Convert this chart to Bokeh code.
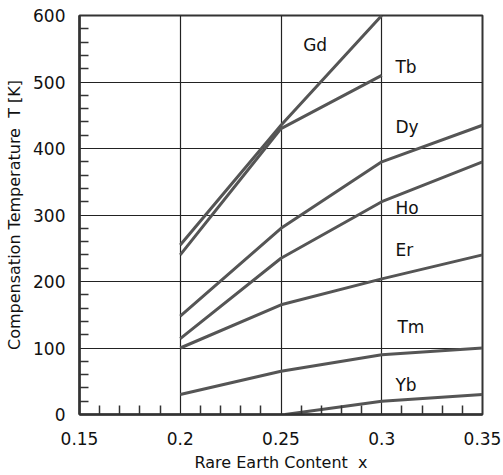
from bokeh.plotting import figure
from bokeh.models import FixedTicker, Range1d
from bokeh.core.properties import value
from bokeh.embed import file_html
from bokeh.resources import INLINE

# Data
gd_x = [0.2, 0.25, 0.3]
gd_y = [255, 435, 600]
tb_x = [0.2, 0.25, 0.3]
tb_y = [240, 430, 510]
dy_x = [0.2, 0.25, 0.3, 0.35]
dy_y = [148, 280, 380, 435]
ho_x = [0.2, 0.25, 0.3, 0.35]
ho_y = [114, 235, 320, 380]
er_x = [0.2, 0.25, 0.3, 0.35]
er_y = [100, 165, 204, 240]
tm_x = [0.2, 0.25, 0.3, 0.35]
tm_y = [30, 65, 90, 100]
yb_x = [0.252, 0.3, 0.35]
yb_y = [0, 20, 30]

series = [(gd_x, gd_y), (tb_x, tb_y), (dy_x, dy_y), (ho_x, ho_y),
          (er_x, er_y), (tm_x, tm_y), (yb_x, yb_y)]

label_names = ["Gd", "Tb", "Dy", "Ho", "Er", "Tm", "Yb"]
label_x = [0.261, 0.3068, 0.3068, 0.3068, 0.3068, 0.3078, 0.3068]
label_y = [555, 522, 432, 311, 247, 132, 44]

x_ticks = [0.15, 0.2, 0.25, 0.3, 0.35]
x_tick_labels = ["0.15", "0.2", "0.25", "0.3", "0.35"]
x_minor = [0.16, 0.17, 0.18, 0.19, 0.21, 0.22, 0.23, 0.24,
           0.26, 0.27, 0.28, 0.29, 0.31, 0.32, 0.33, 0.34]
y_ticks = [0, 100, 200, 300, 400, 500, 600]
y_minor = [v for v in range(20, 600, 20) if v % 100 != 0]

FONT = "DejaVu Sans"

p = figure(width=503, height=475, output_backend="svg", toolbar_location=None,
           x_range=Range1d(0.15, 0.35), y_range=Range1d(0, 600),
           min_border_left=79, min_border_right=21, min_border_top=15,
           min_border_bottom=61)
p.background_fill_color = "white"
p.border_fill_color = "white"
p.outline_line_color = "#333333"
p.outline_line_width = 2

p.xaxis.ticker = FixedTicker(ticks=x_ticks, minor_ticks=x_minor)
p.xaxis.major_label_overrides = {t: l for t, l in zip(x_ticks, x_tick_labels)}
p.yaxis.ticker = FixedTicker(ticks=y_ticks, minor_ticks=y_minor)
p.xgrid.ticker = FixedTicker(ticks=x_ticks)
p.ygrid.ticker = FixedTicker(ticks=y_ticks)

for ax in (p.xaxis[0], p.yaxis[0]):
    ax.major_tick_in = 0
    ax.major_tick_out = 0
    ax.minor_tick_in = 9
    ax.minor_tick_out = 0
    ax.minor_tick_line_color = "#333333"
    ax.minor_tick_line_width = 1.5
    ax.axis_line_color = "#333333"
    ax.axis_line_width = 2.5
    ax.major_label_text_font = FONT
    ax.major_label_text_font_size = "17px"
    ax.major_label_text_color = "#111111"
    ax.axis_label_text_font = FONT
    ax.axis_label_text_font_size = "16px"
    ax.axis_label_text_font_style = "normal"
    ax.axis_label_text_color = "#111111"

p.xaxis.axis_label = "Rare Earth Content\u00a0 x"
p.yaxis.axis_label = "Compensation Temperature\u00a0 T [K]"
p.xaxis.major_label_standoff = 17
p.xaxis.axis_label_standoff = 5
p.yaxis.major_label_standoff = 14
p.yaxis.axis_label_standoff = 6

p.grid.grid_line_color = "#222222"
p.grid.grid_line_width = 1.2

for xs, ys in series:
    p.line(xs, ys, line_color="#555555", line_width=3)

p.text(x=label_x, y=label_y, text=label_names, text_font=value(FONT),
       text_font_size="17px", text_align="left", text_baseline="middle",
       text_color="#111111")

open("out.html", "w").write(file_html(p, INLINE))
